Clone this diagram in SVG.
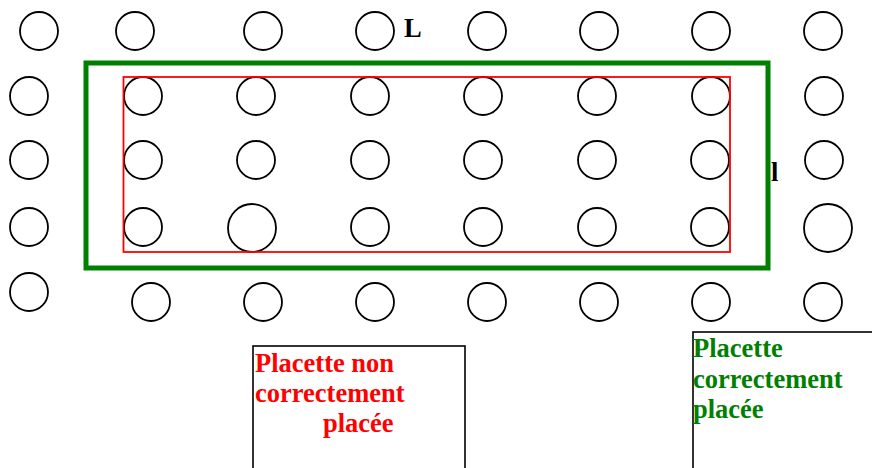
<svg xmlns="http://www.w3.org/2000/svg" width="872" height="468" viewBox="0 0 872 468">
  <style>
    .tree { fill: none; stroke: #000; stroke-width: 1.8; }
    .lbl { font-family: "Liberation Serif", "Times New Roman", serif; font-weight: bold; font-size: 26.5px; }
    .red { fill: #ff0000; }
    .grn { fill: #008000; }
    .blk { fill: #000; }
    .box { fill: #fff; stroke: #000; stroke-width: 1.6; }
  </style>
  <rect width="872" height="468" fill="#fff"/>

  <!-- tree rows -->
  <g id="row1">
    <circle class="tree" cx="39" cy="31" r="19"/>
    <circle class="tree" cx="135" cy="31" r="19"/>
    <circle class="tree" cx="263" cy="31" r="19"/>
    <circle class="tree" cx="375" cy="31" r="19"/>
    <circle class="tree" cx="487" cy="31" r="19"/>
    <circle class="tree" cx="599" cy="31" r="19"/>
    <circle class="tree" cx="711" cy="31" r="19"/>
    <circle class="tree" cx="823" cy="31" r="19"/>
  </g>
  <g id="row2">
    <circle class="tree" cx="29" cy="96" r="19"/>
    <circle class="tree" cx="143" cy="96" r="19"/>
    <circle class="tree" cx="256" cy="96" r="19"/>
    <circle class="tree" cx="370" cy="96" r="19"/>
    <circle class="tree" cx="483" cy="96" r="19"/>
    <circle class="tree" cx="597" cy="96" r="19"/>
    <circle class="tree" cx="711" cy="96" r="19"/>
    <circle class="tree" cx="824" cy="96" r="19"/>
  </g>
  <g id="row3">
    <circle class="tree" cx="29" cy="160" r="19"/>
    <circle class="tree" cx="143" cy="160" r="19"/>
    <circle class="tree" cx="256" cy="160" r="19"/>
    <circle class="tree" cx="370" cy="160" r="19"/>
    <circle class="tree" cx="483" cy="160" r="19"/>
    <circle class="tree" cx="597" cy="160" r="19"/>
    <circle class="tree" cx="710" cy="160" r="19"/>
    <circle class="tree" cx="824" cy="160" r="19"/>
  </g>
  <g id="row4">
    <circle class="tree" cx="29" cy="227" r="19"/>
    <circle class="tree" cx="143" cy="227" r="19"/>
    <circle class="tree" cx="252" cy="228" r="24"/>
    <circle class="tree" cx="370" cy="227" r="19"/>
    <circle class="tree" cx="483" cy="227" r="19"/>
    <circle class="tree" cx="597" cy="227" r="19"/>
    <circle class="tree" cx="710" cy="227" r="19"/>
    <circle class="tree" cx="828" cy="228" r="24"/>
  </g>
  <g id="row5">
    <circle class="tree" cx="29" cy="292" r="19"/>
    <circle class="tree" cx="151" cy="302" r="19"/>
    <circle class="tree" cx="263" cy="302" r="19"/>
    <circle class="tree" cx="375" cy="302" r="19"/>
    <circle class="tree" cx="487" cy="302" r="19"/>
    <circle class="tree" cx="599" cy="302" r="19"/>
    <circle class="tree" cx="711" cy="302" r="19"/>
    <circle class="tree" cx="823" cy="302" r="19"/>
  </g>

  <!-- plot outlines -->
  <g id="plot-correct">
    <rect x="86" y="63" width="682" height="205" fill="none" stroke="#008000" stroke-width="5"/>
    <text class="lbl blk" x="404" y="37">L</text>
    <text class="lbl blk" x="771" y="181">l</text>
  </g>
  <g id="plot-wrong">
    <rect x="123.5" y="77" width="606.5" height="175" fill="none" stroke="#ff0000" stroke-width="1.8"/>
  </g>

  <!-- legend boxes -->
  <g id="legend-wrong">
    <rect class="box" x="253" y="346" width="212" height="130"/>
    <text class="lbl red" x="255" y="372">Placette non</text>
    <text class="lbl red" x="255" y="402">correctement</text>
    <text class="lbl red" x="323" y="432">placée</text>
  </g>
  <g id="legend-correct">
    <rect class="box" x="693" y="332" width="200" height="150"/>
    <text class="lbl grn" x="693" y="357">Placette</text>
    <text class="lbl grn" x="693" y="388">correctement</text>
    <text class="lbl grn" x="693" y="418">placée</text>
  </g>
</svg>
